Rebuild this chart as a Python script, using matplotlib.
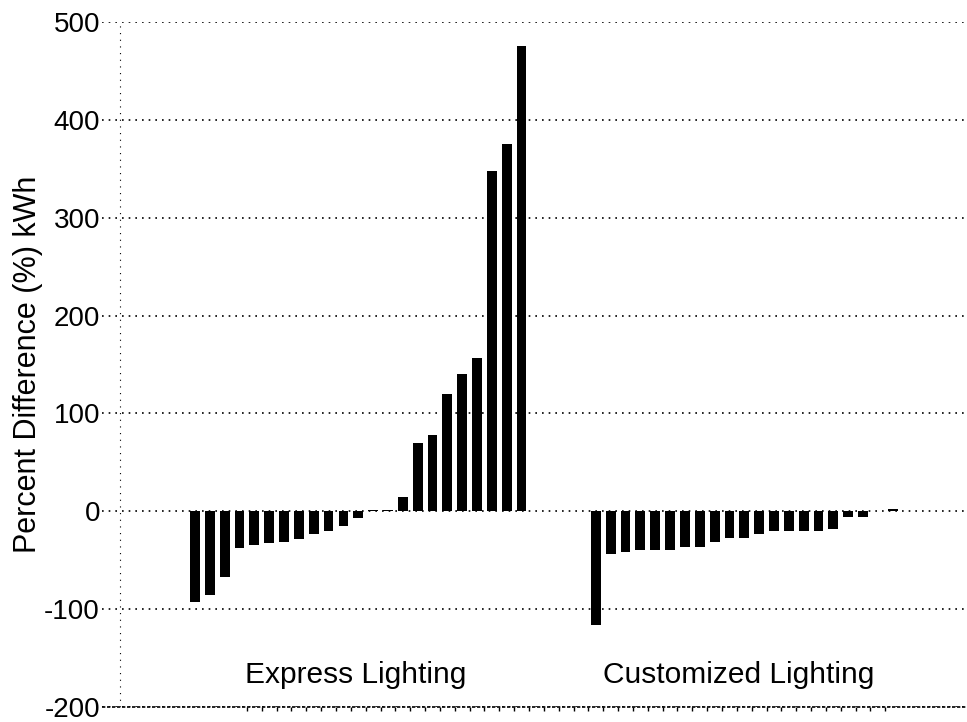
import matplotlib.pyplot as plt
import numpy as np

plt.rcParams['font.family'] = ['Liberation Sans', 'DejaVu Sans']

# Percent difference (%) in kWh, sorted within each program
express = [-93, -86, -67, -38, -35, -33, -31, -28, -23, -20, -15, -7, 1, 1,
           15, 70, 78, 120, 140, 157, 348, 375, 475]
customized = [-116, -44, -42, -40, -40, -40, -37, -37, -32, -27, -27, -23,
              -20, -20, -20, -20, -18, -6, -6, 0, 2]
group_labels = ['Express Lighting', 'Customized Lighting']
y_ticks = [-200, -100, 0, 100, 200, 300, 400, 500]

x_exp = np.arange(len(express))
x_cus = np.arange(len(customized)) + len(express) + 4

fig = plt.figure(figsize=(9.67, 7.22), dpi=100)
ax = fig.add_axes([0.1055, 0.021, 0.8945, 0.9485])

ax.bar(x_exp, express, width=0.66, color='black')
ax.bar(x_cus, customized, width=0.66, color='black')

ax.set_xlim(-6.26, x_cus[-1] + 5)
ax.set_ylim(-200, 500)
ax.set_yticks(y_ticks)
ax.set_yticklabels([str(v) for v in y_ticks], fontsize=20)
ax.tick_params(axis='y', length=0, pad=1.5)

# small tick marks hanging below the bottom frame line
ax.set_xticks(np.arange(3.5, 47, 1.0))
ax.set_xticklabels([])
ax.tick_params(axis='x', direction='out', length=3, width=1, color='black')

ax.yaxis.grid(True, linestyle=(0, (1, 3)), color='black', linewidth=1.2)
ax.set_axisbelow(True)

for s in ax.spines.values():
    s.set_visible(False)
# dotted vertical axis line
ax.axvline(-5.05, color='black', linewidth=0.8, linestyle=(0, (1, 5)))
# the bottom frame line is drawn denser in the original
ax.axhline(-200, color='black', linewidth=1.2, linestyle=(0, (2, 1)), clip_on=False)

ax.set_ylabel('Percent Difference (%) kWh', fontsize=22)
ax.yaxis.set_label_coords(-0.068, 0.5)

ax.text(10.8, -176, group_labels[0], ha='center', va='baseline', fontsize=21.5)
ax.text(36.6, -176, group_labels[1], ha='center', va='baseline', fontsize=21.5)

fig.savefig('out.png', dpi=100)
